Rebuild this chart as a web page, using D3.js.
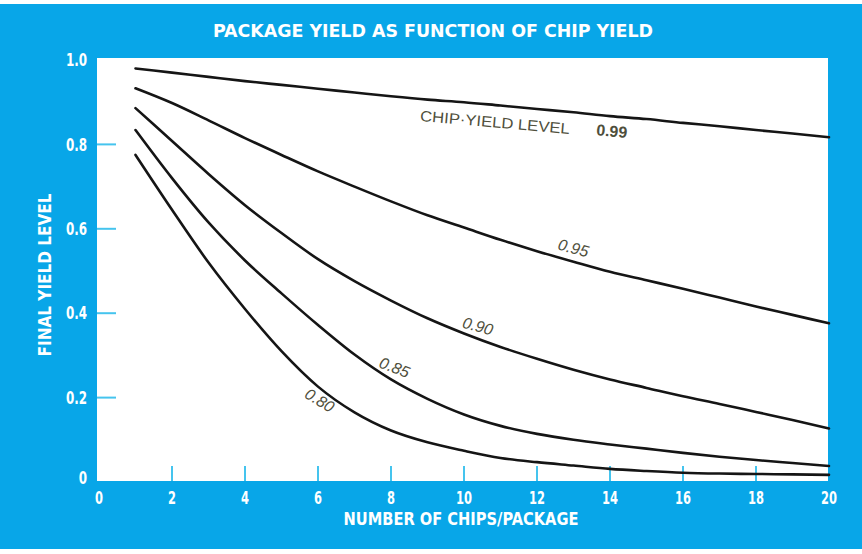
<!DOCTYPE html>
<html>
<head>
<meta charset="utf-8">
<script src="https://cdn.jsdelivr.net/npm/d3@7"></script>
<style>
  body { margin: 0; background: #ffffff; }
  svg { display: block; }
</style>
</head>
<body>
<svg id="chart"></svg>
<script>

// number of chips per package (x)
var chips = [1, 2, 3, 4, 5, 6, 7, 8, 9, 10, 11, 12, 13, 14, 15, 16, 17, 18, 19, 20]

// final yield, one array per chip-yield level
var yield099 = [0.980, 0.970, 0.960, 0.950, 0.941, 0.932, 0.923, 0.914, 0.906, 0.900, 0.892, 0.884, 0.876, 0.867, 0.860, 0.851, 0.843, 0.834, 0.826, 0.817]
var yield095 = [0.933, 0.898, 0.857, 0.815, 0.775, 0.736, 0.700, 0.665, 0.632, 0.603, 0.574, 0.547, 0.522, 0.498, 0.478, 0.458, 0.437, 0.416, 0.396, 0.376]
var yield090 = [0.886, 0.808, 0.730, 0.656, 0.590, 0.528, 0.476, 0.430, 0.388, 0.352, 0.320, 0.292, 0.266, 0.243, 0.223, 0.203, 0.185, 0.166, 0.147, 0.127]
var yield085 = [0.834, 0.720, 0.615, 0.525, 0.447, 0.372, 0.302, 0.243, 0.197, 0.160, 0.133, 0.114, 0.100, 0.089, 0.079, 0.069, 0.060, 0.052, 0.045, 0.038]
var yield080 = [0.775, 0.645, 0.520, 0.410, 0.310, 0.226, 0.165, 0.122, 0.094, 0.074, 0.057, 0.047, 0.039, 0.031, 0.026, 0.022, 0.020, 0.019, 0.018, 0.017]

var levels = ["0.99", "0.95", "0.90", "0.85", "0.80"]

// tick labels
var xTicks = [0, 2, 4, 6, 8, 10, 12, 14, 16, 18, 20]
var yTicks = [0, 0.2, 0.4, 0.6, 0.8, 1.0]
var yTickText = ["0", "0.2", "0.4", "0.6", "0.8", "1.0"]

var series = [yield099, yield095, yield090, yield085, yield080]

var dimensions = {
  width: 862,
  height: 554,
  margin: { top: 60, bottom: 72, right: 33, left: 99 }
}

var blue = "#08a6e8"
var tickBlue = "#45c4ee"
var narrow = "'Liberation Sans Narrow', 'DejaVu Sans Condensed', 'Liberation Sans', sans-serif"

var svg = d3.select("#chart")
  .attr("width", dimensions.width)
  .attr("height", dimensions.height)

// blue card
svg.append("rect")
  .attr("x", 0).attr("y", 4)
  .attr("width", dimensions.width).attr("height", 545)
  .attr("fill", blue)

var x = d3.scaleLinear()
  .domain([0, 20])
  .range([dimensions.margin.left, dimensions.width - dimensions.margin.right])

var y = d3.scaleLinear()
  .domain([0, 1])
  .range([dimensions.height - dimensions.margin.bottom, dimensions.margin.top])

// white plot area
svg.append("rect")
  .attr("x", x(0) - 2)
  .attr("y", y(1) - 2)
  .attr("width", x(20) - x(0) + 1)
  .attr("height", y(0) - y(1) + 1)
  .attr("fill", "#ffffff")

// title
svg.append("text")
  .text("PACKAGE YIELD AS FUNCTION OF CHIP YIELD")
  .attr("x", 433).attr("y", 37)
  .attr("text-anchor", "middle")
  .attr("textLength", 440)
  .attr("lengthAdjust", "spacingAndGlyphs")
  .style("font-family", narrow)
  .style("font-weight", "bold")
  .style("font-size", "18px")
  .attr("fill", "#ffffff")

// y ticks (short blue marks crossing the left edge)
svg.append("g")
  .selectAll("line")
  .data(yTicks.filter(function(d) { return d > 0 && d < 1 }))
  .enter().append("line")
    .attr("x1", x(0) - 2).attr("x2", x(0) + 17)
    .attr("y1", function(d) { return y(d) })
    .attr("y2", function(d) { return y(d) })
    .attr("stroke", tickBlue)
    .attr("stroke-width", 2)

// x ticks (short blue marks standing on the bottom edge)
svg.append("g")
  .selectAll("line")
  .data(xTicks.filter(function(d) { return d > 0 && d < 20 }))
  .enter().append("line")
    .attr("x1", function(d) { return x(d) })
    .attr("x2", function(d) { return x(d) })
    .attr("y1", y(0) - 16).attr("y2", y(0) - 1)
    .attr("stroke", tickBlue)
    .attr("stroke-width", 2)

// y tick labels (squeezed to look like the condensed face of the original)
svg.append("g")
  .selectAll("text")
  .data(yTicks)
  .enter().append("text")
    .text(function(d, i) { return yTickText[i] })
    .attr("transform", function(d) {
      var ty = d == 0 ? y(d) - 4 : y(d)
      return "translate(87," + ty + ") scale(0.78,1)"
    })
    .attr("dy", "0.36em")
    .attr("text-anchor", "end")
    .style("font-family", narrow)
    .style("font-weight", "bold")
    .style("font-size", "17px")
    .attr("fill", "#ffffff")

// x tick labels
svg.append("g")
  .selectAll("text")
  .data(xTicks)
  .enter().append("text")
    .text(function(d) { return d })
    .attr("transform", function(d) { return "translate(" + x(d) + ",504) scale(0.75,1)" })
    .attr("text-anchor", "middle")
    .style("font-family", narrow)
    .style("font-weight", "bold")
    .style("font-size", "17px")
    .attr("fill", "#ffffff")

// axis titles
svg.append("text")
  .text("NUMBER OF CHIPS/PACKAGE")
  .attr("x", 461).attr("y", 525)
  .attr("text-anchor", "middle")
  .attr("textLength", 235)
  .attr("lengthAdjust", "spacingAndGlyphs")
  .style("font-family", narrow)
  .style("font-weight", "bold")
  .style("font-size", "18px")
  .attr("fill", "#ffffff")

svg.append("text")
  .text("FINAL YIELD LEVEL")
  .attr("transform", "translate(51, 275) rotate(-90)")
  .attr("text-anchor", "middle")
  .attr("textLength", 163)
  .attr("lengthAdjust", "spacingAndGlyphs")
  .style("font-family", narrow)
  .style("font-weight", "bold")
  .style("font-size", "17px")
  .attr("fill", "#ffffff")

// the curves
var line = d3.line()
  .x(function(d) { return x(d[0]) })
  .y(function(d) { return y(d[1]) })
  .curve(d3.curveMonotoneX)

svg.append("g")
  .selectAll("path")
  .data(series)
  .enter().append("path")
    .attr("d", function(s) { return line(chips.map(function(c, i) { return [c, s[i]] })) })
    .attr("fill", "none")
    .attr("stroke", "#151515")
    .attr("stroke-width", 2.6)
    .attr("stroke-linecap", "round")

// curve labels, anchored in data units
var notes = [
  { text: "CHIP\u00B7YIELD LEVEL", n: 10.85, v: 0.853, rot: 5, len: 150, size: 15, italic: false, weight: "normal" },
  { text: levels[0], n: 14.05, v: 0.832, rot: 5, len: 31, size: 16, italic: false, weight: "bold" },
  { text: levels[1], n: 13.0, v: 0.555, rot: 15, len: 31, size: 16, italic: true, weight: "normal" },
  { text: levels[2], n: 10.38, v: 0.370, rot: 15, len: 31, size: 16, italic: true, weight: "normal" },
  { text: levels[3], n: 8.1, v: 0.272, rot: 21, len: 31, size: 16, italic: true, weight: "normal" },
  { text: levels[4], n: 6.05, v: 0.194, rot: 31, len: 31, size: 16, italic: true, weight: "normal" }
]

svg.append("g")
  .selectAll("text")
  .data(notes)
  .enter().append("text")
    .text(function(d) { return d.text })
    .attr("transform", function(d) { return "translate(" + x(d.n) + "," + y(d.v) + ") rotate(" + d.rot + ")" })
    .attr("dy", "0.36em")
    .attr("text-anchor", "middle")
    .attr("textLength", function(d) { return d.len })
    .attr("lengthAdjust", "spacingAndGlyphs")
    .style("font-family", "'Liberation Sans', Arial, sans-serif")
    .style("font-size", function(d) { return d.size + "px" })
    .style("font-style", function(d) { return d.italic ? "italic" : "normal" })
    .style("font-weight", function(d) { return d.weight })
    .attr("fill", "#4f4f3c")

</script>
</body>
</html>
